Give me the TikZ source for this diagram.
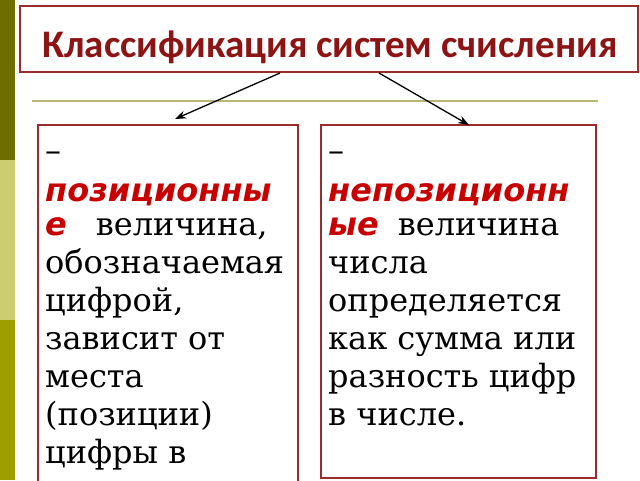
\documentclass[tikz,border=0pt]{standalone}
\usepackage{fontspec}
\setmainfont{DejaVu Serif}
\newfontfamily\titlefont{Carlito}
\newfontfamily\keyfont{DejaVu Sans}
\usetikzlibrary{arrows.meta}
\definecolor{barA}{HTML}{6E6E00}
\definecolor{barB}{HTML}{CCCC70}
\definecolor{barC}{HTML}{9E9E00}
\definecolor{frameRed}{HTML}{9B2C2C}
\definecolor{titleRed}{HTML}{8C1414}
\definecolor{keyRed}{HTML}{C80000}
\definecolor{rule}{HTML}{B8B870}
\tikzset{
  frame/.style={draw=frameRed, line width=1.5pt},
  conn/.style={-{Stealth[length=11pt,width=8pt]}, line width=1.3pt, black},
  bodytext/.style={anchor=base west, inner sep=0pt},
}
\newcommand{\kw}[1]{{\keyfont\bfseries\itshape\color{keyRed}#1}}
\newcommand{\bodylines}[2]{\parbox[t]{#1}{\raggedright\fontsize{32}{38}\selectfont #2}}
\begin{document}
\begin{tikzpicture}[x=1pt,y=-1pt]
\useasboundingbox (0,0) rectangle (640,480);
\fill[white] (0,0) rectangle (640,480);
% left bar
\fill[barA] (0,0) rectangle (15,160);
\fill[barB] (0,160) rectangle (15,320);
\fill[barC] (0,320) rectangle (15,480);
% title
\node[frame, line width=2pt, minimum width=618pt, minimum height=66pt, anchor=north west] (title) at (18.5,4.5) {};
\node[font=\titlefont\bfseries\fontsize{39}{42}\selectfont, text=titleRed, inner sep=0pt, anchor=base] (ttext) at (330,57) {Классификация систем счисления};
% rule
\coordinate (r1) at (32,101);
\coordinate (r2) at (598,101);
\draw[rule, line width=1.5pt] (r1) -- (r2);
% boxes
\node[frame, minimum width=260pt, minimum height=370pt, anchor=north west] (left) at (37,124) {};
\node[frame, minimum width=275pt, minimum height=353pt, anchor=north west] (right) at (320,124) {};
% arrows
\coordinate (a1s) at (280,73);
\coordinate (a1e) at (175,119);
\coordinate (a2s) at (379,73);
\coordinate (a2e) at (469,125);
\draw[conn] (a1s) -- (a1e);
\draw[conn] (a2s) -- (a2e);
% texts
\node[bodytext] (ltext) at (45,161) {\bodylines{250pt}{–\\[2pt]
\kw{позиционны}\\[-4pt]
\kw{е}\hspace{29pt}величина,\\
обозначаемая\\
цифрой,\\
зависит от\\
места\\
(позиции)\\
цифры в}};
\node[bodytext] (rtext) at (328,161) {\bodylines{265pt}{–\\[2pt]
\kw{непозиционн}\\[-4pt]
\kw{ые}\hspace{19pt}величина\\
числа\\
определяется\\
как сумма или\\
разность цифр\\
в числе.}};
\end{tikzpicture}
\end{document}
